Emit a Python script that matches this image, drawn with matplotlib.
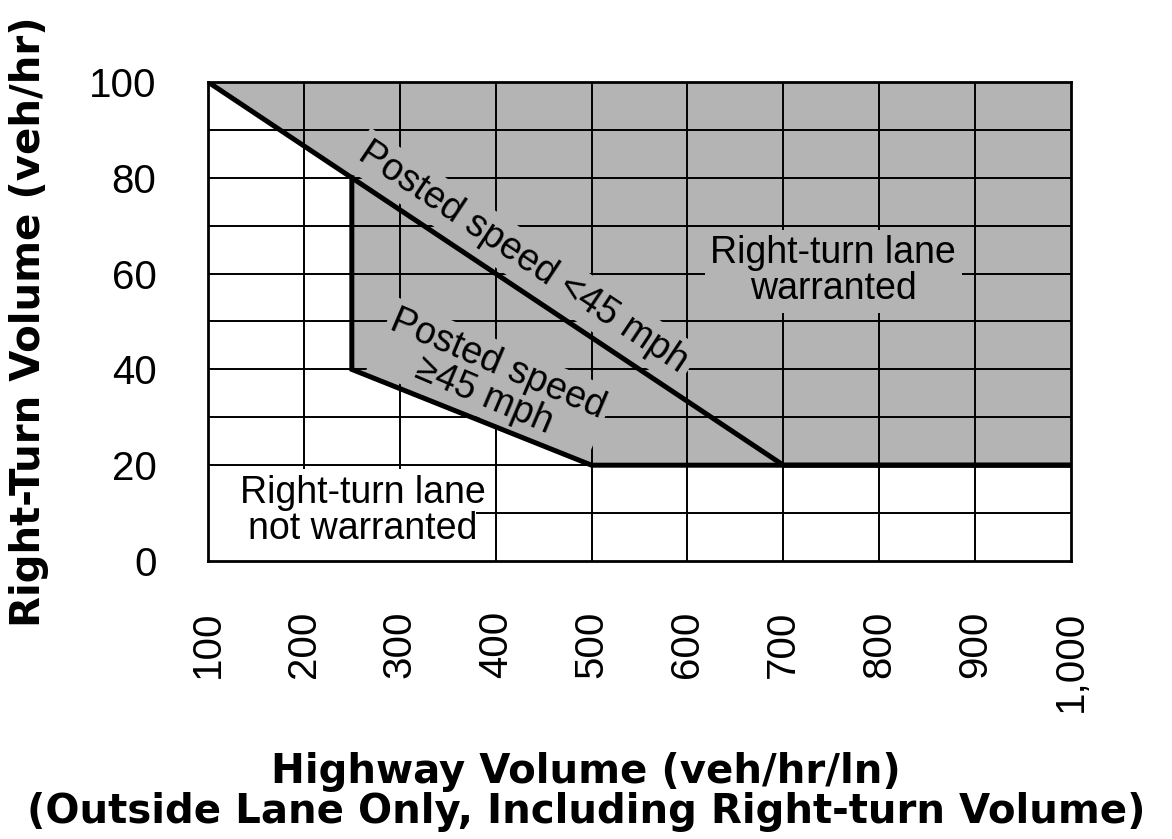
import numpy as np
import matplotlib
matplotlib.use("Agg")
import matplotlib.pyplot as plt

# ---- data ----
x_ticks = [100, 200, 300, 400, 500, 600, 700, 800, 900, 1000]
x_tick_labels = ["100", "200", "300", "400", "500", "600", "700", "800", "900", "1,000"]
y_ticks = [0, 20, 40, 60, 80, 100]
y_tick_labels = ["0", "20", "40", "60", "80", "100"]

# warrant boundary, posted speed < 45 mph
low_speed_x = [100, 700, 1000]
low_speed_y = [100, 20, 20]
# warrant boundary, posted speed >= 45 mph
high_speed_x = [250, 250, 500, 1000]
high_speed_y = [80, 40, 20, 20]
# shaded "warranted" region
region_x = [100, 1000, 1000, 500, 250, 250]
region_y = [100, 100, 20, 20, 40, 80]

GRAY = "#b4b4b4"
FONT = "Liberation Sans"
BOLD = "DejaVu Sans"

fig = plt.figure(figsize=(11.72, 8.39), dpi=100)
ax = fig.add_axes([208/1172, 1 - 561/839, (1071-208)/1172, (561-82)/839])
ax.set_xlim(100, 1000)
ax.set_ylim(0, 100)

ax.fill(region_x, region_y, color=GRAY, lw=0, zorder=1)

# grid
for gx in range(200, 1000, 100):
    ax.axvline(gx, color="black", lw=1.4, zorder=2)
for gy in range(10, 100, 10):
    ax.axhline(gy, color="black", lw=1.4, zorder=2)

ax.plot(low_speed_x, low_speed_y, color="black", lw=3.6, zorder=6, solid_joinstyle="miter")
ax.plot(high_speed_x, high_speed_y, color="black", lw=3.6, zorder=6, solid_joinstyle="miter")

for s in ax.spines.values():
    s.set_linewidth(2.0)
    s.set_zorder(7)

ax.set_xticks(x_ticks)
ax.set_xticklabels(x_tick_labels, rotation=90, fontsize=29, family=FONT, va="top", ha="center")
ax.set_yticks(y_ticks)
ax.set_yticklabels(y_tick_labels, fontsize=29, family=FONT)
ax.tick_params(axis="x", length=0, pad=36)
ax.tick_params(axis="y", length=0, pad=37)

def screen_angle(x0, y0, x1, y1):
    p0 = ax.transData.transform((x0, y0))
    p1 = ax.transData.transform((x1, y1))
    return np.degrees(np.arctan2(p1[1] - p0[1], p1[0] - p0[0]))

ang_low = screen_angle(100, 100, 700, 20)

ax.text(429, 63.3, "Posted speed <45 mph", rotation=ang_low, rotation_mode="anchor",
        ha="center", va="center", fontsize=27, family=FONT, zorder=4,
        bbox=dict(facecolor=GRAY, edgecolor="none", pad=4))
ax.text(395.5, 37.8, "Posted speed\n\u226545 mph", rotation=-23, rotation_mode="anchor",
        ha="center", va="center", fontsize=27, family=FONT, zorder=4, linespacing=0.95,
        bbox=dict(facecolor=GRAY, edgecolor="none", pad=3))
ax.text(752, 60.5, "Right-turn lane\nwarranted", ha="center", va="center",
        fontsize=27, family=FONT, zorder=4, linespacing=1.0,
        bbox=dict(facecolor=GRAY, edgecolor="none", pad=4))
# white area behind the "not warranted" label
ax.axhspan(0, 19.3, xmin=0, xmax=0.31, facecolor="white", edgecolor="none", zorder=3)
ax.text(261, 10.4, "Right-turn lane\nnot warranted", ha="center", va="center",
        fontsize=27, family=FONT, zorder=4, linespacing=1.0)

fig.text(29/1172, 1 - 322/839, "Right-Turn Volume (veh/hr)", rotation=90,
         ha="center", va="center", fontsize=29, fontweight="bold", family=BOLD)
fig.text(0.5, 1 - 792/839, "Highway Volume (veh/hr/ln)\n(Outside Lane Only, Including Right-turn Volume)",
         ha="center", va="center", fontsize=29, fontweight="bold", family=BOLD, linespacing=1.0)

fig.savefig("out.png", dpi=100, facecolor="white")
